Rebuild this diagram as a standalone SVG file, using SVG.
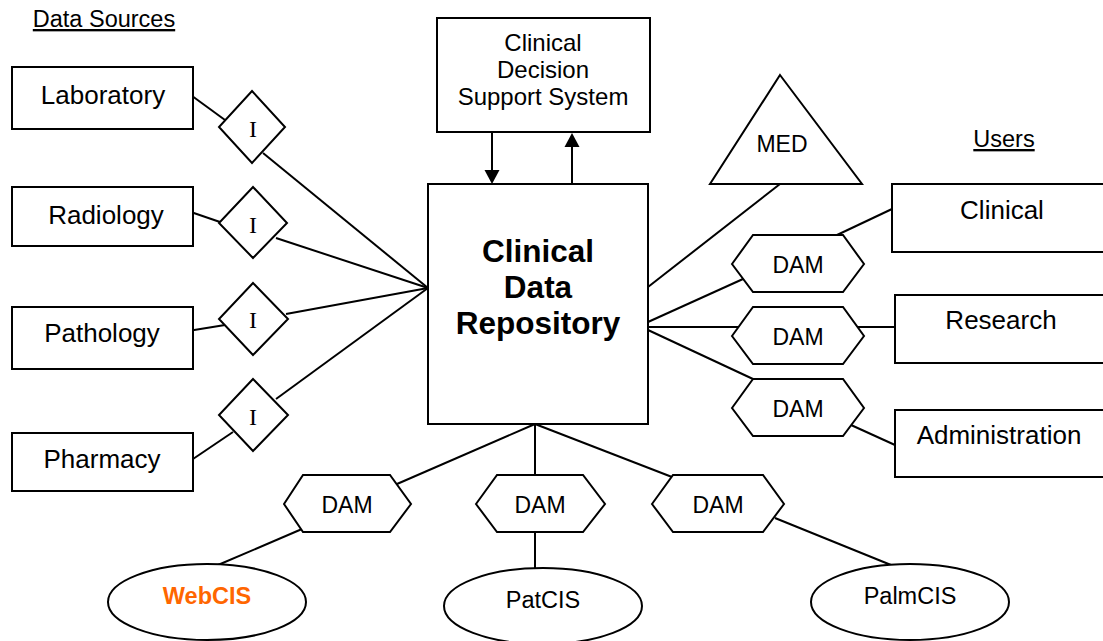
<svg xmlns="http://www.w3.org/2000/svg" width="1103" height="641" viewBox="0 0 1103 641">
<style>
.s{fill:#fff;stroke:#000;stroke-width:2}
.c line,.c polyline{stroke:#000;stroke-width:2;fill:none}
text{font-family:"Liberation Sans",Arial,sans-serif;fill:#000;text-anchor:middle}
.lbl{font-size:26px}
.sm{font-size:23.5px}
.dam{font-size:23px}
.i{font-family:"Liberation Serif","Times New Roman",serif;font-size:24px}
.hdr{font-size:23.5px;text-decoration:underline}
.b{font-weight:bold}
</style>
<defs>
<marker id="ah" markerUnits="userSpaceOnUse" markerWidth="15" markerHeight="16" refX="0" refY="7.5" orient="auto" overflow="visible">
<path d="M0,0 L14,7.5 L0,15 z" fill="#000"/>
</marker>
</defs>
<rect width="1103" height="641" fill="#fff"/>

<text id="hdr-sources" class="hdr" x="104" y="27">Data Sources</text>
<text id="hdr-users" class="hdr" x="1004" y="147">Users</text>

<g id="connectors" class="c">
<line x1="188" y1="93" x2="225" y2="120"/>
<line x1="263" y1="153" x2="428" y2="288"/>
<line x1="188" y1="211" x2="220" y2="222"/>
<line x1="276" y1="238" x2="428" y2="288"/>
<line x1="188" y1="331" x2="225" y2="325"/>
<line x1="286" y1="314" x2="428" y2="288"/>
<line x1="193" y1="459" x2="233" y2="432"/>
<line x1="276" y1="399" x2="428" y2="288"/>
<line x1="492" y1="132" x2="492" y2="170" marker-end="url(#ah)"/>
<line x1="572" y1="184" x2="572" y2="147" marker-end="url(#ah)"/>
<line x1="780" y1="184" x2="648" y2="287"/>
<line x1="648" y1="322" x2="743" y2="279"/>
<line x1="648" y1="327" x2="739" y2="327"/>
<line x1="648" y1="330" x2="753" y2="379"/>
<line x1="837" y1="235" x2="892" y2="209"/>
<line x1="858" y1="327" x2="895" y2="327"/>
<line x1="851" y1="425" x2="895" y2="445"/>
<line x1="535" y1="424" x2="397" y2="484"/>
<line x1="535" y1="424" x2="535" y2="475"/>
<line x1="535" y1="424" x2="672" y2="477"/>
<line x1="302" y1="529" x2="218" y2="565"/>
<line x1="535" y1="532" x2="535" y2="568"/>
<line x1="775" y1="518" x2="891" y2="565"/>
</g>

<g id="laboratory"><rect class="s" x="12" y="67" width="181" height="62"/><text class="lbl" x="103" y="104">Laboratory</text></g>
<g id="radiology"><rect class="s" x="12" y="187" width="181" height="59"/><text class="lbl" x="106" y="224">Radiology</text></g>
<g id="pathology"><rect class="s" x="12" y="307" width="181" height="62"/><text class="lbl" x="102" y="342">Pathology</text></g>
<g id="pharmacy"><rect class="s" x="12" y="433" width="181" height="58"/><text class="lbl" x="102" y="468">Pharmacy</text></g>

<g id="i1"><polygon class="s" points="252,91 285,127 252,163 219,127"/><text class="i" x="253" y="137">I</text></g>
<g id="i2"><polygon class="s" points="253,187 287,223 253,258 219,223"/><text class="i" x="253" y="233">I</text></g>
<g id="i3"><polygon class="s" points="253,283 288,319 253,355 219,319"/><text class="i" x="253" y="328">I</text></g>
<g id="i4"><polygon class="s" points="253,379 288,415 253,451 219,415"/><text class="i" x="253" y="425">I</text></g>

<g id="cdss"><rect class="s" x="437" y="18" width="213" height="114"/>
<text x="543" y="51" style="font-size:24px">Clinical</text>
<text x="543" y="78" style="font-size:24px">Decision</text>
<text x="543" y="105" style="font-size:24px">Support System</text></g>

<g id="cdr"><rect class="s" x="428" y="184" width="220" height="240"/>
<text class="b" x="538" y="262" style="font-size:31.5px">Clinical</text>
<text class="b" x="538" y="298" style="font-size:31.5px">Data</text>
<text class="b" x="538" y="334" style="font-size:31.5px">Repository</text></g>

<g id="med"><polygon class="s" points="780,75 862,184 710,184"/><text class="dam" x="782" y="152">MED</text></g>

<g id="dam-r1"><polygon class="s" points="732,264 753,235 843,235 864,264 843,292 753,292"/><text class="dam" x="798" y="273">DAM</text></g>
<g id="dam-r2"><polygon class="s" points="732,336 753,307 843,307 864,336 843,364 753,364"/><text class="dam" x="798" y="345">DAM</text></g>
<g id="dam-r3"><polygon class="s" points="732,408 753,379 843,379 864,408 843,436 753,436"/><text class="dam" x="798" y="417">DAM</text></g>

<g id="clinical"><rect class="s" x="892" y="184" width="220" height="68"/><text class="lbl" x="1002" y="219">Clinical</text></g>
<g id="research"><rect class="s" x="895" y="295" width="220" height="68"/><text class="lbl" x="1001" y="329">Research</text></g>
<g id="administration"><rect class="s" x="895" y="410" width="220" height="67"/><text class="lbl" x="999" y="444">Administration</text></g>

<g id="dam-b1"><polygon class="s" points="284,504 303,475 390,475 411,504 390,532 303,532"/><text class="dam" x="347" y="513">DAM</text></g>
<g id="dam-b2"><polygon class="s" points="476,504 497,475 583,475 605,504 583,532 497,532"/><text class="dam" x="540" y="513">DAM</text></g>
<g id="dam-b3"><polygon class="s" points="652,504 673,475 763,475 784,504 763,532 673,532"/><text class="dam" x="718" y="513">DAM</text></g>

<g id="webcis"><ellipse class="s" cx="207" cy="602" rx="99" ry="38"/><text class="sm b" x="207" y="604" style="fill:#ff6600">WebCIS</text></g>
<g id="patcis"><ellipse class="s" cx="543" cy="606" rx="99" ry="38"/><text class="sm" x="543" y="608">PatCIS</text></g>
<g id="palmcis"><ellipse class="s" cx="910" cy="602" rx="99" ry="38"/><text class="sm" x="910" y="604">PalmCIS</text></g>
</svg>
